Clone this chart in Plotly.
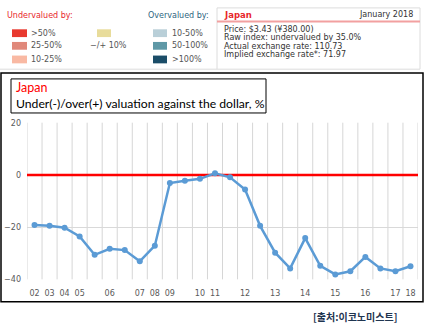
import plotly.graph_objects as go

W, H = 428, 333

# ---- data ----
values = [-19.2, -19.5, -20.2, -23.6, -30.6, -28.3, -28.8, -33.1, -27.1,
          -3.1, -2.2, -1.5, 0.6, -0.9, -5.6, -19.5, -29.8, -35.8, -24.2,
          -34.8, -38.1, -36.9, -31.4, -35.8, -36.9, -35.0]
x_idx = list(range(len(values)))
tick_pos = [0, 1, 2, 3, 5, 7, 8, 9, 11, 12, 14, 16, 18, 20, 22, 24, 25]
tick_labels = ["02", "03", "04", "05", "06", "07", "08", "09", "10", "11",
               "12", "13", "14", "15", "16", "17", "18"]
y_ticks = [-40, -20, 0, 20]

under_labels = [">50%", "25-50%", "10-25%"]
under_colors = ["#e8392f", "#e0887a", "#f9b9a3"]
over_labels = ["10-50%", "50-100%", ">100%"]
over_colors = ["#b9cfd8", "#5e98a6", "#1b4d68"]
info_lines = ["Price: $3.43 (¥380.00)",
              "Raw index: undervalued by 35.0%",
              "Actual exchange rate: 110.73",
              "Implied exchange rate*: 71.97"]


def px(x):
    return x / W


def py(y):
    return 1 - y / H


x_lo, x_hi = -0.5, len(values) - 0.5

fig = go.Figure()
# zero reference line (drawn under the series)
fig.add_trace(go.Scatter(
    x=[x_lo, x_hi], y=[0, 0], mode="lines",
    line=dict(color="#ff0000", width=2.5), showlegend=False, hoverinfo="skip"))
fig.add_trace(go.Scatter(
    x=x_idx, y=values, mode="lines+markers",
    line=dict(color="#5b9bd5", width=2.5),
    marker=dict(color="#5b9bd5", size=6),
    showlegend=False, hoverinfo="skip"))

shapes = []
annotations = []

# vertical category-boundary gridlines
for i in range(len(values) + 1):
    shapes.append(dict(type="line", xref="x", yref="y domain", x0=i - 0.5, x1=i - 0.5,
                       y0=0, y1=1, line=dict(color="#d6d6d6", width=1), layer="below"))

# main chart box
shapes.append(dict(type="rect", xref="paper", yref="paper",
                   x0=px(1), x1=px(423), y0=py(306), y1=py(71),
                   line=dict(color="#000000", width=1.5)))
# title box
shapes.append(dict(type="rect", xref="paper", yref="paper",
                   x0=px(11), x1=px(266), y0=py(112), y1=py(77),
                   line=dict(color="#000000", width=1)))
annotations.append(dict(xref="paper", yref="paper", x=px(14), y=py(86), text="Japan",
                        showarrow=False, xanchor="left", yanchor="middle",
                        font=dict(family="Lato", size=12.5, color="#ff0000")))
annotations.append(dict(xref="paper", yref="paper", x=px(14), y=py(102),
                        text="Under(-)/over(+) valuation against the dollar, %",
                        showarrow=False, xanchor="left", yanchor="middle",
                        font=dict(family="Lato", size=12.2, color="#000000")))

# top panel lines
g = "#dcdcdc"
shapes.append(dict(type="line", xref="paper", yref="paper", x0=px(0), x1=px(420),
                   y0=py(67), y1=py(67), line=dict(color=g, width=1)))
shapes.append(dict(type="line", xref="paper", yref="paper", x0=px(217), x1=px(217),
                   y0=py(4), y1=py(67), line=dict(color=g, width=1)))
shapes.append(dict(type="line", xref="paper", yref="paper", x0=px(420), x1=px(420),
                   y0=py(4), y1=py(67), line=dict(color=g, width=1)))
shapes.append(dict(type="line", xref="paper", yref="paper", x0=px(217), x1=px(420),
                   y0=py(4), y1=py(4), line=dict(color=g, width=1)))
shapes.append(dict(type="line", xref="paper", yref="paper", x0=px(217), x1=px(420),
                   y0=py(18), y1=py(18), line=dict(color="#f2a0a0", width=2)))

lf = "DejaVu Sans"
annotations.append(dict(xref="paper", yref="paper", x=px(5), y=py(12), text="Undervalued by:",
                        showarrow=False, xanchor="left", yanchor="middle",
                        font=dict(family=lf, size=8, color="#e8262c")))
annotations.append(dict(xref="paper", yref="paper", x=px(146), y=py(12), text="Overvalued by:",
                        showarrow=False, xanchor="left", yanchor="middle",
                        font=dict(family=lf, size=8, color="#2e6580")))
rows = [30, 43, 57]
for i in range(3):
    yc = rows[i]
    shapes.append(dict(type="rect", xref="paper", yref="paper", x0=px(12), x1=px(27),
                       y0=py(yc + 4), y1=py(yc - 4), fillcolor=under_colors[i],
                       line=dict(width=0)))
    annotations.append(dict(xref="paper", yref="paper", x=px(29), y=py(yc),
                            text=under_labels[i], showarrow=False, xanchor="left",
                            yanchor="middle", font=dict(family=lf, size=8, color="#555555")))
    shapes.append(dict(type="rect", xref="paper", yref="paper", x0=px(153), x1=px(167),
                       y0=py(yc + 4), y1=py(yc - 4), fillcolor=over_colors[i],
                       line=dict(width=0)))
    annotations.append(dict(xref="paper", yref="paper", x=px(170), y=py(yc),
                            text=over_labels[i], showarrow=False, xanchor="left",
                            yanchor="middle", font=dict(family=lf, size=8, color="#555555")))
shapes.append(dict(type="rect", xref="paper", yref="paper", x0=px(97), x1=px(111),
                   y0=py(34), y1=py(26), fillcolor="#e8dc9b", line=dict(width=0)))
annotations.append(dict(xref="paper", yref="paper", x=px(88), y=py(43), text="−/+ 10%",
                        showarrow=False, xanchor="left", yanchor="middle",
                        font=dict(family=lf, size=8, color="#555555")))

# info box
annotations.append(dict(xref="paper", yref="paper", x=px(222), y=py(11), text="<b>Japan</b>",
                        showarrow=False, xanchor="left", yanchor="middle",
                        font=dict(family=lf, size=8.5, color="#e8262c")))
annotations.append(dict(xref="paper", yref="paper", x=px(415), y=py(11), text="January 2018",
                        showarrow=False, xanchor="right", yanchor="middle",
                        font=dict(family=lf, size=8, color="#333333")))
for i, t in enumerate(info_lines):
    annotations.append(dict(xref="paper", yref="paper", x=px(222), y=py(26 + 8.8 * i), text=t,
                            showarrow=False, xanchor="left", yanchor="middle",
                            font=dict(family=lf, size=8, color="#333333")))

# source
annotations.append(dict(xref="paper", yref="paper", x=px(399), y=py(321),
                        text="<b>[출처:이코노미스트]</b>", showarrow=False,
                        xanchor="right", yanchor="middle",
                        font=dict(family="Noto Sans CJK KR", size=10, color="#1f3550")))

fig.update_layout(
    width=W, height=H, margin=dict(l=0, r=0, t=0, b=0),
    paper_bgcolor="white", plot_bgcolor="rgba(0,0,0,0)",
    shapes=shapes, annotations=annotations,
    xaxis=dict(domain=[px(27), px(418)], range=[x_lo, x_hi],
               tickmode="array", tickvals=tick_pos, ticktext=tick_labels,
               showgrid=False, zeroline=False, showline=False, ticks="",
               ticklabelstandoff=8,
               tickfont=dict(family="DejaVu Sans", size=8, color="#595959")),
    yaxis=dict(domain=[py(283), py(122)], range=[-40, 20],
               tickmode="array", tickvals=y_ticks,
               showgrid=True, gridcolor="#d9d9d9", gridwidth=1,
               zeroline=False, showline=False, ticks="",
               ticklabelstandoff=5,
               tickfont=dict(family="DejaVu Sans", size=8, color="#595959")),
)

fig.write_html("out.html")
